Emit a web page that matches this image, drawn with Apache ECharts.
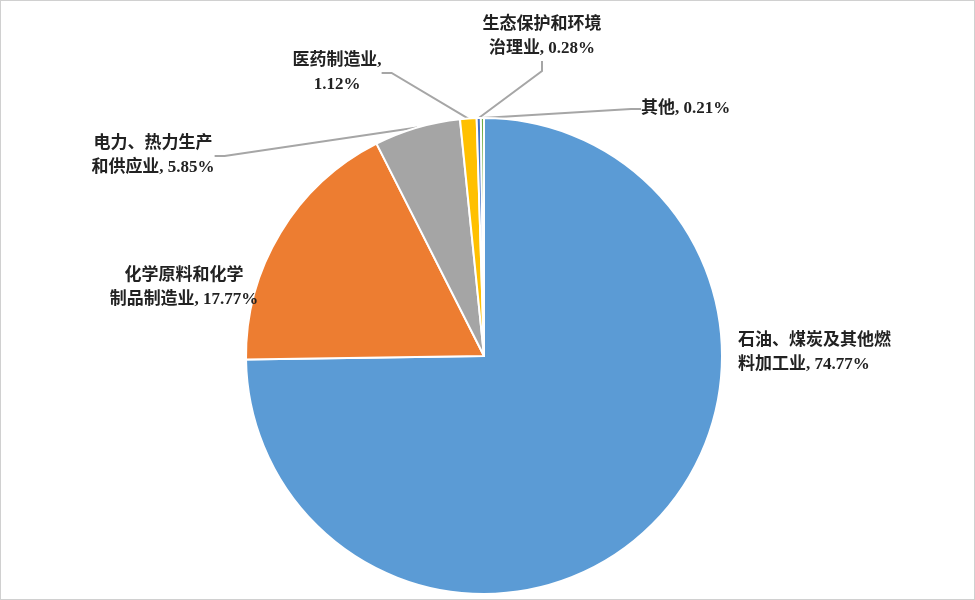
<!DOCTYPE html>
<html><head><meta charset="utf-8">
<script src="https://cdn.jsdelivr.net/npm/echarts@6/dist/echarts.min.js"></script>
<style>html,body{margin:0;padding:0;background:#fff}#c{width:975px;height:600px;box-sizing:border-box;border:1px solid #d0d0d0}</style>
</head><body><div id="c"></div>
<script>
const categories = ['石油、煤炭及其他燃\n料加工业','化学原料和化学\n制品制造业','电力、热力生产\n和供应业','医药制造业,','生态保护和环境\n治理业','其他'];
const values = [74.77, 17.77, 5.85, 1.12, 0.28, 0.21];
const colors = ['#5B9BD5','#ED7D31','#A5A5A5','#FFC000','#4472C4','#70AD47'];
const labelPos = [[737,352,'left'],[183,287,'center'],[152,155,'center'],[336,72,'center'],[541,36,'center'],[640,108,'left']];
const chart = echarts.init(document.getElementById('c'));
chart.setOption({
  animation:false,
  series:[{
    type:'pie', center:[483,355], radius:238, startAngle:90, clockwise:true,
    itemStyle:{borderColor:'#fff',borderWidth:2},
    data: categories.map((n,i)=>({name:n,value:values[i],itemStyle:{color:colors[i]},
      labelLine:{show:i!==0}})),
    label:{show:true, color:'#222', fontSize:17, fontWeight:'bold', lineHeight:24,
      fontFamily:'Liberation Serif, Noto Sans CJK SC',
      formatter:p=>{const i=p.dataIndex; const v=values[i].toFixed(2)+'%';
        if(i===3) return '医药制造业,\n'+v;
        if(i===5) return '其他, '+v;
        return p.name+', '+v;}},
    labelLine:{lineStyle:{color:'#a6a6a6',width:2},length:15,length2:10},
    labelLayout:function(p){const l=labelPos[p.dataIndex];return {x:l[0],y:l[1],align:l[2],verticalAlign:'middle'};}
  }]
});
</script></body></html>
